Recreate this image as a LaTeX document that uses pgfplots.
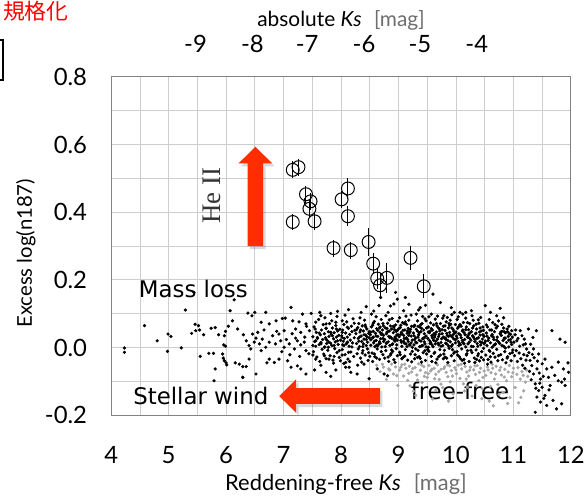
\documentclass[border=0pt]{standalone}
\usepackage{pgfplots}
\pgfplotsset{compat=1.18}
\usetikzlibrary{calc}
\usepackage{fontspec}
\setmainfont{Lato}
\newfontfamily\cjk{Noto Sans CJK JP}
\newfontfamily\dejavu{DejaVu Sans}
\newfontfamily\tnr{Liberation Serif}
\definecolor{arrowred}{RGB}{255,45,0}
\definecolor{gridgray}{RGB}{205,205,205}
\definecolor{framegray}{RGB}{130,130,130}
\definecolor{dotgray}{RGB}{165,165,165}
\definecolor{labgray}{RGB}{110,110,110}
\begin{document}
\begin{tikzpicture}[x=1bp,y=1bp]
\begin{axis}[name=main, width=461bp, height=339.5bp, scale only axis,
  xmin=4, xmax=12, ymin=-0.2, ymax=0.8,
  xtick={4,5,6,7,8,9,10,11,12}, xticklabels={4,5,6,7,8,9,10,11,12},
  ytick={-0.2,0,0.2,0.4,0.6,0.8}, yticklabels={-0.2,0.0,0.2,0.4,0.6,0.8},
  minor x tick num=1, minor y tick num=1,
  grid=both, major grid style={gridgray, line width=0.8bp}, minor grid style={gridgray, line width=0.8bp},
  axis line style={framegray, line width=1.2bp},
  tick style={draw=none},
  xticklabel style={anchor=center, yshift=-39.5bp, font=\fontsize{24}{24}\selectfont},
  yticklabel style={anchor=east, inner sep=0pt, xshift=-24bp, font=\fontsize{24}{24}\selectfont},
]
% free-free population (grey)
\addplot[only marks, mark=*, mark size=1.45pt, dotgray] coordinates {
(8.62,-0.052)(8.68,-0.071)(8.74,-0.058)(8.79,-0.094)(8.83,-0.063)(8.88,-0.049)(8.91,-0.078)(8.95,-0.057)(8.99,-0.112)(9.02,-0.066)
(9.06,-0.051)(9.09,-0.084)(9.13,-0.061)(9.16,-0.097)(9.19,-0.055)(9.23,-0.072)(9.26,-0.129)(9.29,-0.059)(9.32,-0.081)(9.35,-0.048)
(9.38,-0.067)(9.41,-0.103)(9.44,-0.056)(9.47,-0.074)(9.50,-0.088)(9.53,-0.053)(9.56,-0.069)(9.59,-0.152)(9.62,-0.061)(9.65,-0.079)
(9.68,-0.051)(9.71,-0.094)(9.74,-0.064)(9.77,-0.118)(9.80,-0.057)(9.83,-0.073)(9.86,-0.086)(9.89,-0.054)(9.92,-0.068)(9.95,-0.137)
(9.98,-0.059)(10.01,-0.077)(10.04,-0.052)(10.07,-0.091)(10.10,-0.063)(10.13,-0.107)(10.16,-0.056)(10.19,-0.072)(10.22,-0.084)(10.25,-0.058)
(10.28,-0.143)(10.31,-0.066)(10.34,-0.079)(10.37,-0.053)(10.40,-0.098)(10.43,-0.061)(10.46,-0.122)(10.49,-0.069)(10.52,-0.082)(10.55,-0.057)
(10.58,-0.158)(10.61,-0.074)(10.64,-0.061)(10.67,-0.093)(10.70,-0.055)(10.73,-0.109)(10.76,-0.067)(10.79,-0.081)(10.82,-0.132)(10.85,-0.064)
(10.88,-0.098)(10.91,-0.072)(10.94,-0.148)(10.97,-0.086)(11.00,-0.061)(11.03,-0.118)(11.06,-0.079)(11.09,-0.163)(11.12,-0.093)(11.15,-0.071)
(11.18,-0.128)(11.21,-0.102)(11.25,-0.085)(9.20,-0.113)(9.65,-0.125)(9.90,-0.101)(10.15,-0.128)(10.60,-0.115)(10.35,-0.112)(9.45,-0.085)
(10.90,-0.165)(10.65,-0.172)
(8.72,-0.049)(8.85,-0.066)(8.97,-0.083)(9.04,-0.058)(9.11,-0.049)(9.18,-0.076)(9.25,-0.062)(9.33,-0.096)(9.40,-0.051)(9.52,-0.077)
(9.58,-0.064)(9.63,-0.092)(9.70,-0.071)(9.79,-0.062)(9.85,-0.051)(9.94,-0.084)(10.00,-0.066)(10.09,-0.049)(10.18,-0.093)(10.24,-0.067)
(10.33,-0.054)(10.41,-0.073)(10.47,-0.088)(10.56,-0.066)(10.63,-0.049)(10.69,-0.078)(10.78,-0.058)(10.84,-0.087)(10.93,-0.053)(10.99,-0.074)
(11.08,-0.059)(11.17,-0.082)(11.23,-0.066)(9.30,-0.141)(9.87,-0.158)(10.45,-0.151)(10.75,-0.138)(11.13,-0.147)(9.74,-0.108)(10.20,-0.117)
};
% main population (black)
\addplot[only marks, mark=*, mark size=1.45pt, black] coordinates {
(4.23,-0.001)(4.23,-0.014)(4.58,0.065)(4.80,0.020)(4.99,0.040)(5.04,0.033)(4.98,-0.011)(5.22,-0.001)(5.29,0.111)(5.40,0.042)
(5.46,0.069)(5.52,0.065)(5.47,0.050)(5.54,0.052)(5.61,0.038)(5.55,-0.026)(5.70,-0.017)(5.78,-0.017)(5.81,-0.063)(5.79,-0.098)
(5.74,0.057)(5.81,0.059)(5.87,0.038)(5.97,0.035)(5.99,0.048)(6.04,0.063)(6.07,0.109)(6.11,0.079)(5.96,0.008)(5.99,0.004)
(5.94,-0.019)(5.95,-0.031)(5.97,-0.039)(6.00,-0.045)(6.01,-0.051)(5.44,0.163)(6.14,0.141)(6.29,-0.088)(6.35,-0.056)(6.16,-0.045)
(6.38,0.102)(6.45,0.094)(6.50,0.104)(6.69,0.104)(7.13,0.119)(6.98,0.086)(7.03,0.087)(7.33,0.099)(7.48,0.101)(7.65,0.094)
(7.82,0.101)(7.94,0.107)(6.61,0.075)(6.75,0.070)(6.87,0.079)(7.16,0.079)(7.27,0.076)(7.39,0.070)(7.56,0.075)(7.74,0.070)
(7.91,0.075)(8.02,0.079)
(6.20,0.055)(6.30,0.038)(6.46,0.040)(6.55,0.045)(6.63,0.025)(6.81,0.035)(6.92,0.040)(7.01,0.050)(7.21,0.055)(7.30,0.045)
(7.45,0.050)(7.55,0.055)(7.62,0.043)(7.74,0.057)(7.82,0.045)(7.92,0.055)(8.02,0.045)(8.11,0.060)
(6.35,0.020)(6.40,0.006)(6.43,-0.004)(6.49,0.016)(6.58,0.011)(6.61,-0.009)(6.69,0.001)(6.75,0.016)(6.86,0.011)(6.95,0.020)
(7.01,0.001)(7.10,0.011)(7.19,-0.004)(7.24,0.020)(7.30,0.008)(7.36,0.016)(7.39,-0.009)(7.51,0.006)(7.56,0.020)(7.59,0.030)
(7.65,0.011)(7.71,0.001)(7.74,0.025)(7.79,0.016)(7.85,0.035)(7.88,0.006)(7.94,0.020)(7.97,-0.009)(8.02,0.030)(8.05,0.006)
(8.11,0.016)(8.13,-0.014)
(6.23,-0.049)(6.29,-0.056)(6.29,-0.088)(6.40,-0.034)(6.52,-0.078)(6.75,-0.034)(6.84,-0.044)(6.92,-0.034)(7.07,-0.039)(7.13,-0.058)
(7.24,-0.054)(7.30,-0.063)(7.39,-0.078)(7.54,-0.066)(7.56,-0.034)(7.65,-0.052)(7.74,-0.073)(7.82,-0.085)(7.91,-0.066)(7.79,-0.034)
(7.99,-0.039)(8.08,-0.058)(7.51,-0.022)(7.71,-0.024)(7.88,-0.026)(8.02,-0.022)
(8.14,-0.058)(8.17,-0.073)(8.28,-0.078)(8.49,-0.092)(8.40,-0.049)(8.63,-0.063)(8.75,-0.078)(8.81,-0.083)(8.08,-0.044)
(7.51,0.032)(7.52,-0.012)(7.53,0.061)(7.54,0.018)(7.56,0.004)(7.57,0.045)(7.58,-0.028)(7.59,0.027)(7.61,0.083)(7.62,0.009)
(7.63,-0.041)(7.64,0.038)(7.65,0.015)(7.66,0.052)(7.67,-0.005)(7.68,0.024)(7.69,0.068)(7.70,-0.019)(7.71,0.041)(7.72,0.002)
(7.73,0.029)(7.74,-0.033)(7.74,0.057)(7.75,0.012)(7.72,0.088)
(7.76,0.021)(7.77,-0.008)(7.78,0.047)(7.79,0.033)(7.80,0.071)(7.81,-0.024)(7.82,0.013)(7.83,0.039)(7.84,0.006)(7.85,0.058)
(7.86,-0.037)(7.87,0.026)(7.88,0.044)(7.89,-0.003)(7.90,0.017)(7.91,0.065)(7.92,0.031)(7.93,-0.015)(7.94,0.049)(7.95,0.009)
(7.96,0.036)(7.97,-0.029)(7.98,0.054)(7.99,0.022)(7.78,0.001)(7.84,0.079)(7.93,0.092)(7.87,-0.046)
(8.01,0.035)(8.02,-0.006)(8.03,0.052)(8.04,0.019)(8.05,0.068)(8.06,0.027)(8.07,-0.021)(8.08,0.043)(8.09,0.011)(8.10,0.076)
(8.11,0.031)(8.12,-0.034)(8.13,0.057)(8.14,0.004)(8.15,0.039)(8.16,0.022)(8.17,-0.013)(8.18,0.063)(8.19,0.047)(8.20,0.014)
(8.21,0.085)(8.22,-0.026)(8.23,0.029)(8.24,0.051)(8.03,0.008)(8.07,0.096)(8.11,0.015)(8.15,-0.041)(8.19,0.002)(8.23,0.072)
(8.13,0.112)(8.05,-0.047)
(8.26,0.041)(8.27,0.012)(8.28,-0.018)(8.29,0.059)(8.30,0.027)(8.31,0.071)(8.32,0.003)(8.33,0.046)(8.34,-0.031)(8.35,0.034)
(8.36,0.018)(8.37,0.064)(8.38,-0.009)(8.39,0.049)(8.40,0.025)(8.41,0.081)(8.42,-0.022)(8.43,0.037)(8.44,0.006)(8.45,0.055)
(8.46,0.016)(8.47,-0.038)(8.48,0.042)(8.49,0.029)(8.27,0.053)(8.30,-0.004)(8.33,0.088)(8.36,-0.043)(8.39,0.011)(8.42,0.067)
(8.45,0.032)(8.48,-0.015)(8.35,0.104)(8.44,0.121)(8.29,-0.052)
(8.51,0.038)(8.52,0.007)(8.53,0.061)(8.54,-0.016)(8.55,0.029)(8.56,0.048)(8.57,0.014)(8.58,0.077)(8.59,-0.027)(8.60,0.042)
(8.61,0.021)(8.62,0.056)(8.63,-0.004)(8.64,0.033)(8.65,0.069)(8.66,0.011)(8.67,-0.035)(8.68,0.045)(8.69,0.026)(8.70,0.083)
(8.71,0.002)(8.72,0.052)(8.73,-0.021)(8.74,0.036)(8.52,0.046)(8.55,-0.041)(8.58,0.019)(8.61,0.091)(8.64,0.005)(8.67,0.058)
(8.70,-0.012)(8.73,0.027)(8.56,0.072)(8.62,-0.031)(8.68,0.013)(8.74,0.064)(8.53,0.099)(8.66,0.124)(8.59,0.003)(8.71,0.041)
(8.76,0.024)(8.77,0.058)(8.78,-0.009)(8.79,0.041)(8.80,0.015)(8.81,0.072)(8.82,-0.028)(8.83,0.033)(8.84,0.049)(8.85,0.006)
(8.86,0.064)(8.87,-0.018)(8.88,0.028)(8.89,0.086)(8.90,0.011)(8.91,0.044)(8.92,-0.036)(8.93,0.053)(8.94,0.019)(8.95,0.067)
(8.96,-0.003)(8.97,0.037)(8.98,0.022)(8.99,0.078)(8.77,0.003)(8.80,0.046)(8.83,-0.041)(8.86,0.031)(8.89,0.009)(8.92,0.061)
(8.95,0.027)(8.98,-0.024)(8.78,0.094)(8.84,0.082)(8.90,-0.011)(8.96,0.048)(8.82,0.017)(8.88,0.055)(8.94,-0.044)(8.86,0.123)
(8.92,0.129)(8.99,0.038)(8.95,0.163)(8.98,0.143)(9.12,0.148)(8.69,0.148)
(9.01,0.032)(9.02,-0.014)(9.03,0.059)(9.04,0.021)(9.05,0.045)(9.06,0.004)(9.07,0.074)(9.08,-0.029)(9.09,0.036)(9.10,0.013)
(9.11,0.052)(9.12,-0.006)(9.13,0.027)(9.14,0.068)(9.15,0.042)(9.16,-0.037)(9.17,0.018)(9.18,0.081)(9.19,0.009)(9.20,0.047)
(9.21,-0.019)(9.22,0.034)(9.23,0.063)(9.24,0.001)(9.02,0.088)(9.05,0.016)(9.08,0.051)(9.11,-0.025)(9.14,0.029)(9.17,0.057)
(9.20,0.007)(9.23,-0.042)(9.04,0.039)(9.10,0.071)(9.16,0.024)(9.22,0.096)(9.06,-0.033)(9.13,0.011)(9.19,0.044)(9.09,0.109)
(9.18,0.128)(9.24,0.022)
(9.26,0.043)(9.27,0.008)(9.28,0.066)(9.29,-0.021)(9.30,0.029)(9.31,0.054)(9.32,0.014)(9.33,0.079)(9.34,-0.008)(9.35,0.038)
(9.36,0.022)(9.37,0.061)(9.38,-0.032)(9.39,0.047)(9.40,0.005)(9.41,0.071)(9.42,0.026)(9.43,-0.015)(9.44,0.052)(9.45,0.017)
(9.46,0.085)(9.47,-0.038)(9.48,0.034)(9.49,0.058)(9.27,0.035)(9.30,-0.004)(9.33,0.049)(9.36,-0.027)(9.39,0.019)(9.42,0.092)
(9.45,0.041)(9.48,0.002)(9.28,0.024)(9.34,0.063)(9.40,-0.043)(9.46,0.011)(9.31,0.099)(9.37,0.003)(9.43,0.028)(9.49,-0.019)
(9.38,0.118)(9.47,0.125)
(9.51,0.027)(9.52,0.061)(9.53,-0.011)(9.54,0.044)(9.55,0.012)(9.56,0.073)(9.57,-0.026)(9.58,0.035)(9.59,0.052)(9.60,0.003)
(9.61,0.067)(9.62,-0.017)(9.63,0.031)(9.64,0.084)(9.65,0.019)(9.66,0.046)(9.67,-0.034)(9.68,0.025)(9.69,0.059)(9.70,0.008)
(9.71,0.039)(9.72,-0.006)(9.73,0.071)(9.74,0.015)(9.52,0.001)(9.55,0.048)(9.58,-0.041)(9.61,0.022)(9.64,0.011)(9.67,0.064)
(9.70,0.033)(9.73,-0.022)(9.53,0.091)(9.59,0.029)(9.65,-0.045)(9.71,0.055)(9.56,0.016)(9.62,0.042)(9.68,0.093)(9.74,0.004)
(9.60,0.158)(9.73,0.133)
(9.76,0.041)(9.77,0.006)(9.78,0.063)(9.79,-0.019)(9.80,0.028)(9.81,0.051)(9.82,0.013)(9.83,0.076)(9.84,-0.031)(9.85,0.036)
(9.86,0.021)(9.87,0.058)(9.88,-0.002)(9.89,0.045)(9.90,0.017)(9.91,0.069)(9.92,-0.024)(9.93,0.032)(9.94,0.009)(9.95,0.054)
(9.96,0.026)(9.97,-0.039)(9.98,0.043)(9.99,0.014)(9.77,0.087)(9.80,-0.008)(9.83,0.024)(9.86,-0.044)(9.89,0.066)(9.92,0.004)
(9.95,0.038)(9.98,-0.013)(9.78,0.031)(9.84,0.011)(9.90,0.081)(9.96,0.048)(9.81,-0.028)(9.87,0.033)(9.93,0.097)(9.99,0.023)
(9.85,0.089)(9.97,0.104)
(10.01,0.034)(10.02,-0.012)(10.03,0.057)(10.04,0.018)(10.05,0.041)(10.06,-0.027)(10.07,0.068)(10.08,0.009)(10.09,0.029)(10.10,-0.004)
(10.11,0.049)(10.12,0.015)(10.13,0.074)(10.14,-0.035)(10.15,0.024)(10.16,0.038)(10.17,0.002)(10.18,0.061)(10.19,-0.018)(10.20,0.031)
(10.21,0.011)(10.22,0.053)(10.23,-0.041)(10.24,0.027)(10.02,0.083)(10.05,0.006)(10.08,-0.033)(10.11,0.021)(10.14,0.044)(10.17,0.087)
(10.20,-0.009)(10.23,0.016)(10.03,-0.022)(10.09,0.063)(10.15,-0.046)(10.21,0.035)(10.07,0.104)(10.12,0.099)(10.17,0.104)(10.24,0.071)
(10.26,0.022)(10.27,0.047)(10.28,-0.015)(10.29,0.035)(10.30,0.003)(10.31,0.064)(10.32,-0.031)(10.33,0.018)(10.34,0.041)(10.35,-0.007)
(10.36,0.055)(10.37,0.012)(10.38,-0.024)(10.39,0.029)(10.40,0.072)(10.41,-0.039)(10.42,0.037)(10.43,0.008)(10.44,0.049)(10.45,-0.012)
(10.46,0.025)(10.47,0.061)(10.48,-0.002)(10.49,0.033)(10.27,0.004)(10.30,0.081)(10.33,-0.044)(10.36,0.026)(10.39,-0.018)(10.42,0.058)
(10.45,0.015)(10.48,-0.036)(10.28,0.094)(10.35,0.043)(10.43,0.089)(10.49,0.011)
(10.51,0.019)(10.52,-0.022)(10.53,0.043)(10.54,0.006)(10.55,0.061)(10.56,-0.035)(10.57,0.028)(10.58,-0.008)(10.59,0.052)(10.60,0.014)
(10.61,-0.043)(10.62,0.035)(10.63,0.001)(10.64,0.074)(10.65,-0.017)(10.66,0.024)(10.67,0.047)(10.68,-0.028)(10.69,0.011)(10.70,0.058)
(10.71,-0.005)(10.72,0.031)(10.73,-0.039)(10.74,0.017)(10.51,0.124)(10.60,0.104)(10.71,0.094)(10.55,-0.049)(10.63,0.039)(10.68,0.009)
(10.58,0.083)(10.74,0.079)
(10.76,0.012)(10.77,0.116)(10.78,-0.021)(10.79,0.036)(10.80,0.069)(10.81,-0.036)(10.82,0.021)(10.83,0.004)(10.84,0.047)(10.85,-0.012)
(10.86,0.028)(10.87,-0.045)(10.88,0.015)(10.89,0.055)(10.90,-0.027)(10.91,0.033)(10.92,0.002)(10.93,0.041)(10.94,-0.018)(10.95,0.024)
(10.96,-0.039)(10.97,0.009)(10.98,0.031)(10.99,-0.007)(10.80,0.048)(10.86,-0.001)(10.92,0.063)(10.97,0.050)
(11.01,0.016)(11.02,-0.024)(11.03,0.038)(11.05,-0.009)(11.06,0.020)(11.07,-0.041)(11.08,0.027)(11.10,-0.016)(11.11,0.004)(11.12,0.050)
(11.13,-0.033)(11.15,0.035)(11.16,-0.052)(11.17,0.008)(11.18,-0.021)(11.19,0.025)(11.21,0.011)(11.22,-0.037)(11.23,-0.004)(11.24,-0.024)
(11.04,0.052)(11.20,-0.061)
(11.26,0.055)(11.40,0.050)(11.67,0.050)(11.81,0.025)(11.90,0.016)(11.35,-0.004)(11.44,-0.019)(11.55,-0.034)(11.78,-0.043)(11.87,-0.063)
(11.96,-0.073)(11.72,-0.082)(11.61,-0.088)(11.47,-0.093)(11.38,-0.107)(11.50,-0.117)(11.64,-0.112)(11.78,-0.098)(11.90,-0.112)(11.44,-0.127)
(11.55,-0.141)(11.41,-0.146)(11.69,-0.156)(11.58,-0.171)(11.75,-0.181)(11.38,-0.191)(11.84,-0.166)(11.47,-0.161)(11.41,-0.063)(11.32,-0.053)
(11.50,-0.048)(11.29,-0.038)(11.35,-0.078)(11.58,-0.063)(11.67,-0.058)(11.84,-0.102)(11.89,-0.093)(11.30,0.010)(11.33,-0.020)(11.28,-0.070)
(11.36,-0.030)(11.42,-0.040)(11.45,-0.075)(11.52,-0.085)(11.39,-0.120)(11.31,-0.095)(11.46,-0.105)(11.53,-0.150)(11.62,-0.125)(11.27,-0.015)
(11.34,0.030)(11.95,-0.045)
(8.31,0.019)(8.34,0.052)(8.37,-0.016)(8.40,0.038)(8.43,0.061)(8.46,-0.004)(8.49,0.047)(8.52,0.023)(8.55,0.066)(8.58,-0.019)
(8.61,0.034)(8.64,0.051)(8.67,0.017)(8.70,0.039)(8.73,0.071)(8.76,-0.031)(8.79,0.012)(8.82,0.048)(8.85,0.029)(8.88,-0.007)
(8.91,0.063)(8.94,0.031)(8.97,0.008)(9.00,0.055)(9.03,-0.021)(9.06,0.041)(9.09,0.019)(9.12,0.076)(9.15,0.003)(9.18,0.036)
(9.21,0.054)(9.24,-0.011)(9.27,0.062)(9.30,0.016)(9.33,-0.029)(9.36,0.044)(9.39,0.068)(9.42,0.006)(9.45,0.029)(9.48,0.079)
(9.51,-0.006)(9.54,0.021)(9.57,0.056)(9.60,0.037)(9.63,-0.014)(9.66,0.071)(9.69,0.013)(9.72,0.049)(9.75,0.026)(9.78,-0.033)
(9.81,0.064)(9.84,0.042)(9.87,0.005)(9.90,0.036)(9.93,0.058)(9.96,-0.017)(9.99,0.068)(10.02,0.028)(10.05,0.062)(10.08,0.037)
(10.11,-0.038)(10.14,0.011)(10.17,0.053)(10.20,0.074)(10.23,0.041)(10.26,-0.008)(10.29,0.058)(10.32,0.026)(10.35,0.069)(10.38,0.004)
(10.41,0.046)(10.44,-0.029)(10.47,0.038)(10.50,0.014)(10.53,0.067)(10.56,0.021)(10.59,-0.011)(10.62,0.052)(10.65,0.031)(10.68,0.068)
(10.71,0.022)(10.74,-0.024)(10.77,0.041)(10.80,0.006)(10.83,0.058)(10.86,0.044)(10.89,-0.031)(10.92,0.022)(10.95,0.039)(10.98,-0.015)
(8.32,0.031)(8.38,0.003)(8.44,0.024)(8.50,-0.026)(8.56,0.031)(8.62,0.007)(8.68,0.061)(8.74,0.018)(8.80,0.057)(8.86,-0.022)
(8.92,0.023)(8.98,0.051)(9.04,0.066)(9.10,0.027)(9.16,0.049)(9.22,0.014)(9.28,-0.033)(9.34,0.031)(9.40,0.057)(9.46,-0.009)
(9.52,0.046)(9.58,0.009)(9.64,0.038)(9.70,-0.027)(9.76,0.053)(9.82,0.028)(9.88,0.071)(9.94,-0.006)(10.00,0.046)(10.06,0.013)
(10.12,0.052)(10.18,-0.022)(10.24,0.043)(10.30,0.032)(10.36,-0.035)(10.42,0.017)(10.48,0.051)(10.54,0.034)(10.60,-0.027)(10.66,0.007)
(10.72,0.063)(10.78,0.046)(10.84,0.028)(10.90,0.047)(10.96,0.016)(9.13,0.093)(9.57,0.099)(10.04,0.091)(10.39,0.082)(9.79,0.094)
(8.57,0.108)(8.82,0.104)(9.35,0.111)(9.92,0.118)(10.27,0.109)(10.83,0.088)(7.63,0.104)(7.37,0.031)(7.21,0.028)(7.05,0.024)
(6.88,0.048)(7.44,-0.018)(7.28,-0.026)(7.15,0.041)(6.97,-0.012)(6.66,0.052)(6.52,0.028)(6.71,-0.045)(7.40,0.063)(7.11,-0.021)
};
% He II emitters with error bars
\addplot[only marks, mark=o, mark size=6.5pt, black, line width=1.0pt,
  error bars/.cd, y dir=both, y explicit, error mark=none, error bar style={line width=1.0pt}]
  coordinates {
(7.16,0.525) +- (0,0.025)
(7.26,0.533) +- (0,0.025)
(7.39,0.453) +- (0,0.025)
(7.47,0.432) +- (0,0.025)
(7.45,0.410) +- (0,0.025)
(7.16,0.371) +- (0,0.025)
(7.54,0.373) +- (0,0.025)
(8.12,0.470) +- (0,0.030)
(8.01,0.438) +- (0,0.025)
(8.12,0.388) +- (0,0.030)
(7.87,0.294) +- (0,0.025)
(8.17,0.288) +- (0,0.025)
(8.48,0.312) +- (0,0.040)
(8.56,0.248) +- (0,0.030)
(8.63,0.204) +- (0,0.030)
(8.80,0.206) +- (0,0.045)
(8.68,0.184) +- (0,0.035)
(9.21,0.265) +- (0,0.035)
(9.44,0.181) +- (0,0.035)
};
% arrows
\fill[black, opacity=0.15] (6.414,0.291) -- (6.414,0.535) -- (6.255,0.535) -- (6.55,0.584) -- (6.845,0.535) -- (6.686,0.535) -- (6.686,0.291) -- cycle;
\fill[arrowred] (6.374,0.300) -- (6.374,0.544) -- (6.215,0.544) -- (6.51,0.593) -- (6.805,0.544) -- (6.646,0.544) -- (6.646,0.300) -- cycle;
\fill[black, opacity=0.15] (8.72,-0.1284) -- (7.26,-0.1284) -- (7.26,-0.102) -- (6.965,-0.152) -- (7.26,-0.199) -- (7.26,-0.1756) -- (8.72,-0.1756) -- cycle;
\fill[arrowred] (8.68,-0.1194) -- (7.22,-0.1194) -- (7.22,-0.093) -- (6.925,-0.143) -- (7.22,-0.193) -- (7.22,-0.1666) -- (8.68,-0.1666) -- cycle;
% annotations
\node[font=\dejavu\fontsize{23}{23}\selectfont] at (5.43,0.173) {Mass loss};
\node[font=\dejavu\fontsize{23}{23}\selectfont] at (5.56,-0.143) {Stellar wind};
\node[font=\dejavu\fontsize{23}{23}\selectfont] at (10.07,-0.128) {free-free};
\node[rotate=90, font=\tnr\fontsize{27}{27}\selectfont, text=black!80] at (5.76,0.448) {He II};
\coordinate (sw) at (rel axis cs:0,0);
\end{axis}
\begin{axis}[width=461bp, height=339.5bp, scale only axis,
  xmin=4, xmax=12, ymin=-0.2, ymax=0.8,
  axis x line*=top, axis y line=none,
  xtick={5.467,6.457,7.411,8.401,9.373,10.363}, xticklabels={-9,-8,-7,-6,-5,-4},
  tick style={draw=none},
  axis line style={framegray, line width=1.2bp},
  xticklabel style={anchor=center, yshift=33bp, font=\fontsize{24}{24}\selectfont},
]
\addplot[draw=none] coordinates {(4,0)};
\end{axis}
\begin{scope}[shift={($(sw)+(-111.5,-86.5)$)}]
\path[use as bounding box] (0,0) rectangle (588,503);
\node[anchor=base, font=\fontsize{21}{21}\selectfont] at (342,476.3) {absolute \textit{Ks}\,\, \textcolor{labgray}{[mag]}};
\node[anchor=base, font=\fontsize{22}{22}\selectfont] at (347,11) {Reddening-free \textit{Ks}\,\, \textcolor{labgray}{[mag]}};
\node[rotate=90, font=\fontsize{20.5}{20.5}\selectfont] at (26,249) {Excess log(n187)};
\node[text=red, font=\cjk\fontsize{22}{22}\selectfont] at (36,492) {規格化};
\draw[line width=1.5bp] (0,463) -- (3,463) -- (3,423) -- (0,423);
\end{scope}
\end{tikzpicture}
\end{document}
